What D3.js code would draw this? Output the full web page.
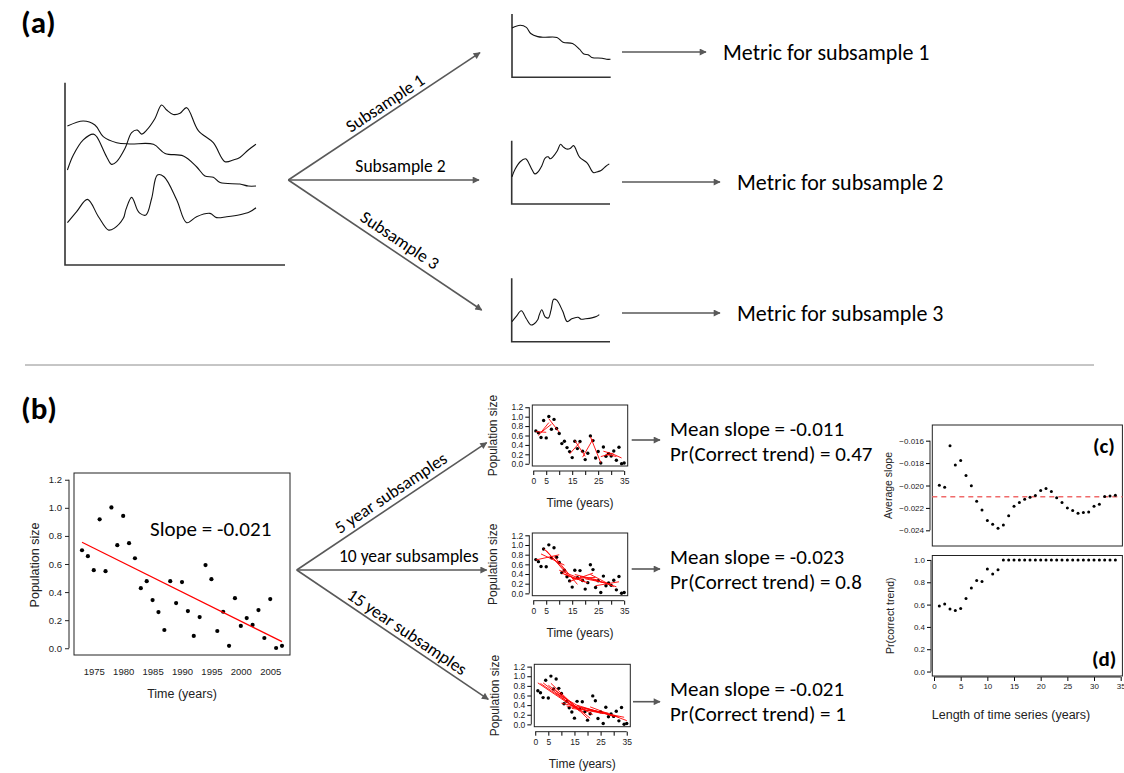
<!DOCTYPE html>
<html>
<head>
<meta charset="utf-8">
<script src="https://cdn.jsdelivr.net/npm/d3@7"></script>
<style>
  body { margin: 0; background: #fff; }
  svg { display: block; }
  .r text { font-family: "Liberation Sans", Arial, sans-serif; fill: #222; }
  .ann { font-family: Carlito, Lato, "Open Sans", sans-serif; fill: #000; }
</style>
</head>
<body>
<div id="chart"></div>
<script>
// ---- data ----

// (b) population series, one value per year
const years = d3.range(1973, 2008);
const popSize = [0.698, 0.656, 0.556, 0.918, 0.549, 1.003, 0.734, 0.942, 0.748, 0.641,
                 0.428, 0.478, 0.343, 0.258, 0.130, 0.478, 0.322, 0.471, 0.265, 0.088,
                 0.222, 0.592, 0.492, 0.123, 0.260, 0.017, 0.357, 0.159, 0.215, 0.166,
                 0.272, 0.073, 0.350, 0.002, 0.017];
const trendYears = [1973, 2007];
const trendValues = [0.755, 0.047];
const yearTicks = [1975, 1980, 1985, 1990, 1995, 2000, 2005];
const sizeTicks = [0, 0.2, 0.4, 0.6, 0.8, 1.0, 1.2];

// subsample panels (time index 1..35) and start years of the drawn windows
const subTicks = [0, 5, 10, 15, 20, 25, 30, 35];
const subTickLabels = [0, 5, 15, 25, 35];
const win5Starts = [1, 2, 3, 6, 14, 16, 19, 22, 26, 27, 28, 30];
const win10Starts = [1, 3, 4, 5, 8, 10, 11, 12, 14, 15, 16, 18, 20, 22, 23, 24];
const win15Starts = [1, 2, 3, 5, 6, 7, 8, 10, 12, 14, 16, 18, 20, 21];

// (c) and (d)
const seriesLength = d3.range(1, 35);
const avgSlope = [-0.01997, -0.02015, -0.01645, -0.01818, -0.01776, -0.01910, -0.02003, -0.02140,
                  -0.02218, -0.02313, -0.02346, -0.02382, -0.02352, -0.02269, -0.02185, -0.02152,
                  -0.02122, -0.02104, -0.02090, -0.02045, -0.02027, -0.02054, -0.02110, -0.02152,
                  -0.02200, -0.02224, -0.02248, -0.02242, -0.02236, -0.02185, -0.02167, -0.02098,
                  -0.02093, -0.02087];
const prCorrect = [0.588, 0.606, 0.561, 0.546, 0.564, 0.654, 0.749, 0.815, 0.806, 0.919,
                   0.875, 0.913, 1, 1, 1, 1, 1, 1, 1, 1, 1, 1, 1, 1, 1, 1, 1, 1, 1, 1, 1, 1, 1, 1];
const trueSlope = -0.021;
const slopeTicks = [-0.016, -0.018, -0.020, -0.022, -0.024];
const prTicks = [0, 0.2, 0.4, 0.6, 0.8, 1.0];
const lengthTicks = [0, 5, 10, 15, 20, 25, 30, 35];

// (a) sketched time series, x and y on a 0-100 grid
const curveDecline = [[1.1, 76.2], [8.3, 79.0], [13.6, 76.8], [17.4, 70.4], [23.5, 67.1], [29.5, 66.4],
  [40.2, 66.2], [45.5, 61.2], [53.8, 59.8], [59.8, 53.9], [63.6, 48.8], [67.4, 48.1], [70.5, 45.2],
  [79.5, 44.4], [83.3, 43.3], [86.8, 43.3]];
const curveWiggle = [[1.1, 52.1], [3.8, 60.3], [8.3, 68.6], [12.9, 71.8], [14.4, 70.4], [18.9, 59.4],
  [21.2, 55.2], [23.5, 56.7], [27.3, 64.0], [30.3, 72.6], [32.9, 74.0], [34.8, 71.8], [37.1, 74.0],
  [40.9, 80.4], [43.9, 87.8], [46.2, 85.0], [49.2, 82.6], [52.3, 83.2], [55.3, 86.3], [60.6, 73.7],
  [67.4, 67.1], [72.7, 56.7], [76.5, 57.6], [79.5, 59.0], [83.3, 63.1], [86.8, 66.2]];
const curveLow = [[1.1, 23.2], [5.3, 29.3], [10.2, 36.0], [15.2, 26.5], [19.7, 19.2], [22.3, 20.1],
  [26.5, 25.6], [27.7, 30.5], [30.3, 37.1], [32.9, 30.2], [34.1, 28.3], [36.8, 27.4], [39.4, 36.6],
  [42.0, 49.4], [45.0, 48.4], [50.8, 35.6], [55.3, 23.2], [59.8, 26.5], [65.9, 28.3], [68.9, 26.0],
  [73.5, 26.5], [79.5, 27.6], [83.8, 29.1], [86.8, 31.4]];

const subsampleNames = ["Subsample 1", "Subsample 2", "Subsample 3"];
const metricNames = ["Metric for subsample 1", "Metric for subsample 2", "Metric for subsample 3"];
const windowNames = ["5 year subsamples", "10 year subsamples", "15 year subsamples"];
const meanSlopes = ["-0.011", "-0.023", "-0.021"];
const prValues = ["0.47", "0.8", "1"];

// ---- drawing ----
const width = 1124, height = 773;
const svg = d3.select("#chart").append("svg")
  .attr("width", width).attr("height", height);

const grey = "#595959";
svg.append("defs").append("marker")
  .attr("id", "head").attr("viewBox", "0 0 10 10")
  .attr("refX", 9).attr("refY", 5)
  .attr("markerUnits", "userSpaceOnUse")
  .attr("markerWidth", 9).attr("markerHeight", 7)
  .attr("orient", "auto")
  .append("path").attr("d", "M0,0 L10,5 L0,10 z").attr("fill", grey);

function arrow(x1, y1, x2, y2) {
  svg.append("line")
    .attr("x1", x1).attr("y1", y1).attr("x2", x2).attr("y2", y2)
    .attr("stroke", grey).attr("stroke-width", 1.6)
    .attr("marker-end", "url(#head)");
}

function label(x, y, txt, size, opts = {}) {
  const t = svg.append("text").attr("class", "ann")
    .attr("transform", `translate(${x},${y}) rotate(${opts.rotate || 0})`)
    .attr("font-size", size)
    .attr("text-anchor", opts.anchor || "start")
    .attr("font-weight", opts.bold ? "bold" : "normal")
    .text(txt);
  if (opts.dy) t.attr("dy", opts.dy);
  return t;
}

// ========== (a) ==========
label(21, 33, "(a)", 31, { bold: true });

const sketch = d3.line().curve(d3.curveCatmullRom.alpha(0.5));

// big panel with three series
const xA = d3.scaleLinear([0, 100], [65, 285]);
const yA = d3.scaleLinear([0, 100], [265, 82.7]);
svg.append("path")
  .attr("d", `M${xA(0)},${yA(100)}V${yA(0)}H${xA(100)}`)
  .attr("fill", "none").attr("stroke", "#333").attr("stroke-width", 1.6);
for (const c of [curveDecline, curveWiggle, curveLow]) {
  svg.append("path")
    .attr("d", sketch.x(d => xA(d[0])).y(d => yA(d[1]))(c))
    .attr("fill", "none").attr("stroke", "#111").attr("stroke-width", 1.1);
}

// small panels, one per subsample
const panelsA = [
  { curve: curveDecline, left: 512, top: 14, bottom: 77.3, right: 610.7, xr: [512, 610.5], yr: [59.3, 25.3], mid: 52 },
  { curve: curveWiggle, left: 511.7, top: 140.7, bottom: 204, right: 610, xr: [512, 609.3], yr: [176.7, 144.3], mid: 182 },
  { curve: curveLow, left: 511.7, top: 278.3, bottom: 341.7, right: 610, xr: [512, 599.3], yr: [325, 299.3], mid: 313 }
];
panelsA.forEach((p, i) => {
  svg.append("path")
    .attr("d", `M${p.left},${p.top}V${p.bottom}H${p.right}`)
    .attr("fill", "none").attr("stroke", "#333").attr("stroke-width", 1.6);
  const xs = d3.scaleLinear(d3.extent(p.curve, d => d[0]), p.xr);
  const ys = d3.scaleLinear(d3.extent(p.curve, d => d[1]), p.yr);
  svg.append("path")
    .attr("d", sketch.x(d => xs(d[0])).y(d => ys(d[1]))(p.curve))
    .attr("fill", "none").attr("stroke", "#111").attr("stroke-width", 1.1);
  arrow(622, p.mid, i === 0 ? 706 : 720, p.mid);
  label(i === 0 ? 723 : 737, p.mid + 7.5, metricNames[i], 22);
});

// fan of arrows
arrow(288.3, 180, 480, 52.7);
arrow(288.3, 180, 479, 180);
arrow(288.3, 180, 481.7, 310);
label(385, 103, subsampleNames[0], 17.5, { anchor: "middle", rotate: -33.6, dy: "0.35em" });
label(400.5, 171.5, subsampleNames[1], 17.5, { anchor: "middle" });
label(400, 240, subsampleNames[2], 17.5, { anchor: "middle", rotate: 33.9, dy: "0.35em" });

// separator
svg.append("line").attr("x1", 25).attr("x2", 1094).attr("y1", 365).attr("y2", 365)
  .attr("stroke", "#8c8c8c").attr("stroke-width", 1);

// ========== (b) ==========
label(21, 419, "(b)", 31, { bold: true });

const main = svg.append("g").attr("class", "r");
const xM = d3.scaleLinear([1971.64, 2008.36], [74, 290]);
const yM = d3.scaleLinear([-0.048, 1.248], [655, 473]);

main.append("rect")
  .attr("x", xM.range()[0]).attr("y", yM.range()[1])
  .attr("width", xM.range()[1] - xM.range()[0]).attr("height", yM.range()[0] - yM.range()[1])
  .attr("fill", "none").attr("stroke", "#222").attr("stroke-width", 1);

const yAxisM = main.append("g").attr("transform", "translate(69,0)")
  .call(d3.axisLeft(yM).tickValues(sizeTicks).tickFormat(d3.format(".1f")).tickSize(4).tickPadding(3));
yAxisM.select(".domain").remove();
yAxisM.append("line").attr("y1", yM(0)).attr("y2", yM(1.2)).attr("stroke", "#222");
yAxisM.selectAll("text").attr("font-size", 9.5).attr("fill", "#333");
yAxisM.selectAll(".tick line").attr("stroke", "#222");

const xAxisM = main.append("g").attr("transform", "translate(0,660)")
  .call(d3.axisBottom(xM).tickValues(yearTicks).tickFormat(d3.format("d")).tickSize(0).tickPadding(8));
xAxisM.select(".domain").remove();
xAxisM.selectAll("text").attr("font-size", 9.5).attr("fill", "#333");

main.selectAll("circle").data(popSize).join("circle")
  .attr("cx", (d, i) => xM(years[i])).attr("cy", d => yM(d))
  .attr("r", 2.1).attr("fill", "#000");

main.append("line")
  .attr("x1", xM(trendYears[0])).attr("y1", yM(trendValues[0]))
  .attr("x2", xM(trendYears[1])).attr("y2", yM(trendValues[1]))
  .attr("stroke", "red").attr("stroke-width", 1.2);

main.append("text").attr("x", 182).attr("y", 698).attr("text-anchor", "middle")
  .attr("font-size", 12.5).text("Time (years)");
main.append("text").attr("transform", "translate(39,565) rotate(-90)").attr("text-anchor", "middle")
  .attr("font-size", 12.5).text("Population size");

label(150, 536, "Slope = -0.021", 21);

// arrows to subsample panels
arrow(296.7, 570, 486.7, 442.7);
arrow(296.7, 570, 486.7, 570);
arrow(296.7, 570, 488.3, 699.3);
label(390.7, 492.7, windowNames[0], 17.5, { anchor: "middle", rotate: -33.8, dy: "0.35em" });
label(408.8, 561.5, windowNames[1], 17.5, { anchor: "middle" });
label(407.3, 631.7, windowNames[2], 17.5, { anchor: "middle", rotate: 34, dy: "0.35em" });

// least-squares line through one window of the series
function windowFit(start, len) {
  const ts = d3.range(start, start + len);
  const vs = ts.map(t => popSize[t - 1]);
  const mt = d3.mean(ts), mv = d3.mean(vs);
  const b = d3.sum(ts, (t, i) => (t - mt) * (vs[i] - mv)) / d3.sum(ts, t => (t - mt) ** 2);
  return [[start, mv + b * (start - mt)], [start + len - 1, mv + b * (start + len - 1 - mt)]];
}

function subPlot(L, R, T, B, len, starts) {
  const g = svg.append("g").attr("class", "r");
  const x = d3.scaleLinear([-0.36, 36.36], [L, R]);
  const y = d3.scaleLinear([-0.048, 1.248], [B, T]);

  g.append("rect").attr("x", L).attr("y", T).attr("width", R - L).attr("height", B - T)
    .attr("fill", "none").attr("stroke", "#222").attr("stroke-width", 1);

  const ya = g.append("g").attr("transform", `translate(${L - 3},0)`)
    .call(d3.axisLeft(y).tickValues(sizeTicks).tickFormat(d3.format(".1f")).tickSize(4).tickPadding(2));
  ya.select(".domain").remove();
  ya.append("line").attr("y1", y(0)).attr("y2", y(1.2)).attr("stroke", "#222");
  ya.selectAll("text").attr("font-size", 8.5).attr("fill", "#333");

  const xa = g.append("g").attr("transform", `translate(0,${B + 5})`)
    .call(d3.axisBottom(x).tickValues(subTicks)
      .tickFormat(d => subTickLabels.includes(d) ? d : "").tickSize(4).tickPadding(3));
  xa.select(".domain").remove();
  xa.append("line").attr("x1", x(0)).attr("x2", x(35)).attr("stroke", "#222");
  xa.selectAll("text").attr("font-size", 8.5).attr("fill", "#333");

  g.selectAll("circle").data(popSize).join("circle")
    .attr("cx", (d, i) => x(i + 1)).attr("cy", d => y(d))
    .attr("r", 1.7).attr("fill", "#000");

  const ln = d3.line().x(d => x(d[0])).y(d => y(d[1]));
  for (const s of starts) {
    g.append("path").attr("d", ln(windowFit(s, len)))
      .attr("fill", "none").attr("stroke", "red").attr("stroke-width", 0.9);
  }

  g.append("text").attr("x", (L + R) / 2).attr("y", B + 41).attr("text-anchor", "middle")
    .attr("font-size", 12).text("Time (years)");
  g.append("text").attr("transform", `translate(${L - 35},${(T + B) / 2}) rotate(-90)`)
    .attr("text-anchor", "middle").attr("font-size", 12).text("Population size");
}

subPlot(532.3, 627.7, 405, 466, 5, win5Starts);
subPlot(532.3, 627.7, 533, 595.7, 10, win10Starts);
subPlot(534.3, 630.3, 664.3, 726.7, 15, win15Starts);

// results text
const resultRows = [440, 569, 701.7];
const resultBase = [436, 564, 696];
resultRows.forEach((yy, i) => {
  arrow(i === 2 ? 633 : 631.7, yy, 660, yy);
  label(670, resultBase[i], "Mean slope = " + meanSlopes[i], 21);
  label(670, resultBase[i] + 24.5, "Pr(Correct trend) = " + prValues[i], 21);
});

// ========== (c) and (d) ==========
const xCD = d3.scaleLinear([-0.32, 35.32], [932.3, 1122.4]);
const yC = d3.scaleLinear([-0.0254, -0.0146], [546, 425]);
const yD = d3.scaleLinear([-0.04, 1.04], [676, 555.5]);

const gc = svg.append("g").attr("class", "r");
gc.append("rect").attr("x", xCD.range()[0]).attr("y", yC.range()[1])
  .attr("width", xCD.range()[1] - xCD.range()[0]).attr("height", yC.range()[0] - yC.range()[1])
  .attr("fill", "none").attr("stroke", "#222").attr("stroke-width", 1);
const yca = gc.append("g").attr("transform", "translate(930,0)")
  .call(d3.axisLeft(yC).tickValues(slopeTicks).tickFormat(d3.format(".3f")).tickSize(4).tickPadding(2));
yca.select(".domain").remove();
yca.append("line").attr("y1", yC(slopeTicks[0])).attr("y2", yC(slopeTicks[4])).attr("stroke", "#222");
yca.selectAll("text").attr("font-size", 8).attr("fill", "#333");

gc.append("line")
  .attr("x1", xCD.range()[0]).attr("x2", xCD.range()[1])
  .attr("y1", yC(trueSlope)).attr("y2", yC(trueSlope))
  .attr("stroke", "#f06a6a").attr("stroke-width", 1.5).attr("stroke-dasharray", "5,4");

gc.selectAll("circle").data(avgSlope).join("circle")
  .attr("cx", (d, i) => xCD(seriesLength[i])).attr("cy", d => yC(d))
  .attr("r", 1.5).attr("fill", "#000");

gc.append("text").attr("transform", `translate(892,${(425 + 546) / 2}) rotate(-90)`)
  .attr("text-anchor", "middle").attr("font-size", 10.5).text("Average slope");

const gd = svg.append("g").attr("class", "r");
gd.append("rect").attr("x", xCD.range()[0]).attr("y", yD.range()[1])
  .attr("width", xCD.range()[1] - xCD.range()[0]).attr("height", yD.range()[0] - yD.range()[1])
  .attr("fill", "none").attr("stroke", "#222").attr("stroke-width", 1);
const yda = gd.append("g").attr("transform", "translate(931,0)")
  .call(d3.axisLeft(yD).tickValues(prTicks).tickFormat(d3.format(".1f")).tickSize(4).tickPadding(2));
yda.select(".domain").remove();
yda.append("line").attr("y1", yD(0)).attr("y2", yD(1)).attr("stroke", "#222");
yda.selectAll("text").attr("font-size", 8).attr("fill", "#333");

const xda = gd.append("g").attr("transform", "translate(0,677)")
  .call(d3.axisBottom(xCD).tickValues(lengthTicks).tickFormat(d3.format("d")).tickSize(4).tickPadding(2));
xda.select(".domain").remove();
xda.append("line").attr("x1", xCD(0)).attr("x2", xCD(35)).attr("stroke", "#222");
xda.selectAll("text").attr("font-size", 8).attr("fill", "#333");

gd.selectAll("circle").data(prCorrect).join("circle")
  .attr("cx", (d, i) => xCD(seriesLength[i])).attr("cy", d => yD(d))
  .attr("r", 1.5).attr("fill", "#000");

gd.append("text").attr("transform", `translate(894,${(555.5 + 676) / 2}) rotate(-90)`)
  .attr("text-anchor", "middle").attr("font-size", 10.5).text("Pr(correct trend)");
gd.append("text").attr("x", 1011).attr("y", 719).attr("text-anchor", "middle")
  .attr("font-size", 12.5).text("Length of time series (years)");

label(1093, 453, "(c)", 21, { bold: true });
label(1092, 666, "(d)", 21, { bold: true });
</script>
</body>
</html>
